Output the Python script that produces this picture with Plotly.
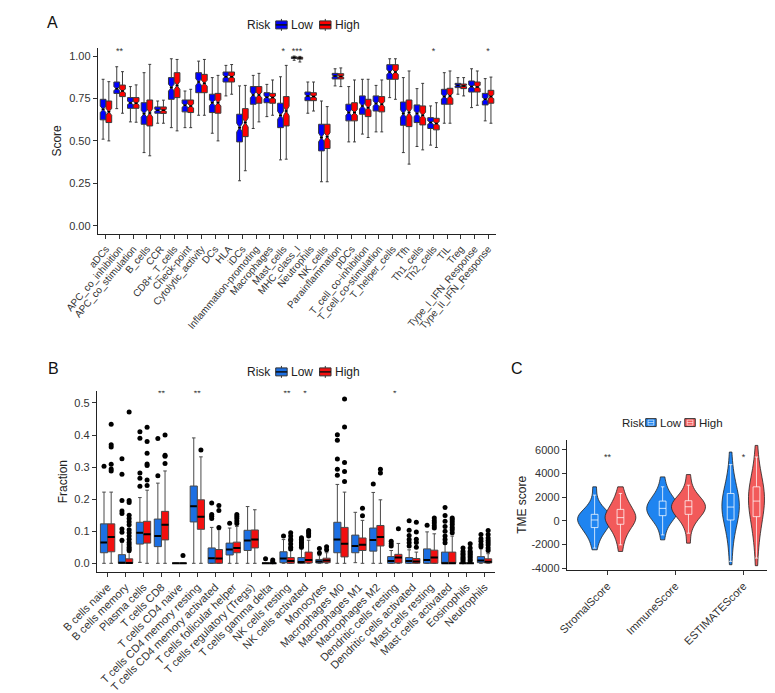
import plotly.graph_objects as go

W, H = 775, 693
FONT = "Liberation Sans, Arial, Helvetica, sans-serif"
TXT = "#333333"

# ---------------- Panel A: immune function scores ----------------
a_categories = ["aDCs", "APC_co_inhibition", "APC_co_stimulation", "B_cells", "CCR",
                "CD8+_T_cells", "Check-point", "Cytolytic_activity", "DCs", "HLA",
                "iDCs", "Inflammation-promoting", "Macrophages", "Mast_cells", "MHC_class_I",
                "Neutrophils", "NK_cells", "Parainflammation", "pDCs", "T_cell_co-inhibition",
                "T_cell_co-stimulation", "T_helper_cells", "Tfh", "Th1_cells", "Th2_cells",
                "TIL", "Treg", "Type_I_IFN_Response", "Type_II_IFN_Response"]
a_low_lower = [0.51, 0.69, 0.612, 0.431, 0.604, 0.578, 0.578, 0.651, 0.545, 0.765,
               0.265, 0.573, 0.643, 0.388, 0.975, 0.663, 0.259, 0.824, 0.494, 0.54,
               0.553, 0.755, 0.431, 0.467, 0.475, 0.604, 0.775, 0.696, 0.618]
a_low_q1 = [0.624, 0.78, 0.692, 0.598, 0.663, 0.745, 0.671, 0.784, 0.667, 0.847,
            0.494, 0.716, 0.725, 0.578, 0.986, 0.737, 0.441, 0.865, 0.618, 0.657,
            0.676, 0.863, 0.592, 0.608, 0.573, 0.716, 0.814, 0.788, 0.712]
a_low_med = [0.686, 0.808, 0.724, 0.66, 0.68, 0.814, 0.71, 0.847, 0.725, 0.878,
             0.578, 0.771, 0.757, 0.651, 0.991, 0.765, 0.52, 0.882, 0.667, 0.706,
             0.72, 0.906, 0.661, 0.661, 0.608, 0.761, 0.827, 0.82, 0.745]
a_low_q3 = [0.745, 0.847, 0.755, 0.725, 0.70, 0.873, 0.741, 0.902, 0.775, 0.906,
            0.657, 0.82, 0.784, 0.722, 0.995, 0.788, 0.598, 0.898, 0.716, 0.765,
            0.765, 0.949, 0.729, 0.712, 0.637, 0.804, 0.839, 0.853, 0.78]
a_low_upper = [0.863, 0.937, 0.82, 0.902, 0.735, 0.984, 0.794, 0.97, 0.873, 0.945,
               0.824, 0.886, 0.833, 0.878, 1.0, 0.847, 0.735, 0.925, 0.82, 0.863,
               0.827, 0.984, 0.873, 0.808, 0.706, 0.902, 0.873, 0.925, 0.867]
a_high_lower = [0.50, 0.663, 0.61, 0.412, 0.604, 0.559, 0.578, 0.651, 0.50, 0.775,
                0.324, 0.612, 0.651, 0.392, 0.965, 0.676, 0.259, 0.82, 0.494, 0.52,
                0.553, 0.745, 0.363, 0.447, 0.461, 0.604, 0.765, 0.71, 0.604]
a_high_q1 = [0.608, 0.761, 0.692, 0.588, 0.662, 0.755, 0.667, 0.784, 0.663, 0.847,
             0.525, 0.722, 0.722, 0.588, 0.982, 0.737, 0.455, 0.865, 0.618, 0.643,
             0.671, 0.863, 0.584, 0.594, 0.565, 0.716, 0.808, 0.788, 0.722]
a_high_med = [0.671, 0.794, 0.722, 0.665, 0.68, 0.827, 0.706, 0.84, 0.725, 0.878,
              0.608, 0.771, 0.755, 0.676, 0.988, 0.761, 0.525, 0.88, 0.667, 0.696,
              0.716, 0.906, 0.667, 0.651, 0.602, 0.765, 0.824, 0.818, 0.761]
a_high_q3 = [0.735, 0.829, 0.755, 0.741, 0.70, 0.902, 0.741, 0.892, 0.78, 0.906,
             0.69, 0.82, 0.78, 0.761, 0.993, 0.784, 0.598, 0.896, 0.725, 0.745,
             0.761, 0.949, 0.741, 0.706, 0.633, 0.81, 0.835, 0.847, 0.798]
a_high_upper = [0.849, 0.908, 0.83, 0.951, 0.74, 0.98, 0.804, 0.98, 0.886, 0.95,
                0.827, 0.898, 0.859, 0.945, 0.998, 0.847, 0.702, 0.93, 0.859, 0.863,
                0.859, 0.984, 0.912, 0.839, 0.725, 0.912, 0.873, 0.912, 0.876]
a_sig = ["", "**", "", "", "", "", "", "", "", "", "", "", "", "*", "***",
         "", "", "", "", "", "", "", "", "", "*", "", "", "", "*"]
a_yticks = [0.0, 0.25, 0.5, 0.75, 1.0]

# ---------------- Panel B: immune cell fractions ----------------
b_categories = ["B cells naive", "B cells memory", "Plasma cells", "T cells CD8", "T cells CD4 naive",
                "T cells CD4 memory resting", "T cells CD4 memory activated", "T cells follicular helper",
                "T cells regulatory (Tregs)", "T cells gamma delta", "NK cells resting", "NK cells activated",
                "Monocytes", "Macrophages M0", "Macrophages M1", "Macrophages M2",
                "Dendritic cells resting", "Dendritic cells activated", "Mast cells resting",
                "Mast cells activated", "Eosinophils", "Neutrophils"]
b_low_lower = [0, 0, 0.003, 0, 0, 0, 0, 0, 0, 0, 0, 0, 0, 0, 0.002, 0, 0, 0, 0, 0, 0, 0]
b_low_q1 = [0.033, 0, 0.06, 0.052, 0, 0.129, 0, 0.026, 0.04, 0, 0.002, 0, 0.001, 0.033, 0.033, 0.038,
            0, 0, 0, 0, 0, 0.002]
b_low_med = [0.065, 0.002, 0.095, 0.085, 0, 0.178, 0.016, 0.043, 0.071, 0, 0.015, 0.004, 0.006, 0.074,
             0.054, 0.073, 0.007, 0.007, 0.01, 0, 0, 0.009]
b_low_q3 = [0.123, 0.027, 0.128, 0.138, 0, 0.241, 0.048, 0.063, 0.103, 0, 0.036, 0.018, 0.012, 0.128,
            0.088, 0.11, 0.021, 0.018, 0.045, 0.035, 0, 0.021]
b_low_upper = [0.222, 0.065, 0.205, 0.25, 0, 0.391, 0.112, 0.11, 0.177, 0, 0.074, 0.045, 0.024, 0.246,
               0.159, 0.221, 0.04, 0.042, 0.098, 0.06, 0, 0.045]
b_low_out = [[0.303], [0.326, 0.278, 0.196, 0.163, 0.155, 0.107, 0.097, 0.072],
             [0.41, 0.39, 0.282, 0.265, 0.24], [0.273, 0.389], [], [],
             [0.188, 0.152, 0.147, 0.14], [0.125], [], [0.014], [0.085],
             [0.08, 0.075, 0.07, 0.065, 0.06, 0.055, 0.05], [0.032, 0.046],
             [0.275, 0.293, 0.325, 0.384, 0.401], [], [0.247], [0.069, 0.061, 0.054],
             [0.133, 0.103, 0.087, 0.074, 0.064, 0.054], [0.119],
             [0.174, 0.149, 0.131, 0.115, 0.1, 0.085, 0.074, 0.064],
             [0.048, 0.038, 0.031, 0.026, 0.02, 0.015, 0.01, 0.005],
             [0.09, 0.077, 0.069, 0.059, 0.052]]
b_high_lower = [0] * 22
b_high_q1 = [0.036, 0, 0.063, 0.073, 0, 0.106, 0, 0.033, 0.048, 0, 0, 0.001, 0.002, 0.02, 0.04, 0.054,
             0.001, 0, 0, 0, 0, 0.001]
b_high_med = [0.082, 0.001, 0.091, 0.12, 0, 0.145, 0.015, 0.048, 0.074, 0, 0.007, 0.01, 0.009, 0.061,
              0.058, 0.082, 0.018, 0.006, 0.018, 0, 0, 0.005]
b_high_q3 = [0.123, 0.014, 0.131, 0.162, 0, 0.198, 0.043, 0.066, 0.104, 0, 0.018, 0.035, 0.016, 0.112,
             0.079, 0.118, 0.028, 0.015, 0.041, 0.035, 0, 0.014]
b_high_upper = [0.222, 0.034, 0.228, 0.288, 0, 0.332, 0.105, 0.115, 0.167, 0, 0.04, 0.072, 0.033, 0.222,
                0.134, 0.198, 0.062, 0.035, 0.092, 0.085, 0, 0.03]
b_high_out = [[0.434, 0.37, 0.363, 0.309, 0.294, 0.288],
              [0.472, 0.196, 0.19, 0.15, 0.14, 0.13, 0.12, 0.105, 0.095, 0.085, 0.075, 0.065, 0.058,
               0.05, 0.045, 0.04],
              [0.424, 0.38, 0.343, 0.31, 0.305, 0.26, 0.243], [0.311, 0.334, 0.337, 0.4], [0.024],
              [0.353], [0.18, 0.165, 0.112], [0.152, 0.146, 0.14, 0.132, 0.124], [], [0.01, 0.005],
              [0.095, 0.085, 0.075, 0.07, 0.06, 0.05, 0.045], [0.102, 0.098, 0.092, 0.085],
              [0.042, 0.052], [0.255, 0.286, 0.314, 0.425, 0.512], [0.172, 0.148], [0.293, 0.282],
              [0.108], [0.128, 0.098, 0.075, 0.065, 0.05], [0.141, 0.133, 0.126, 0.117, 0.11],
              [0.141, 0.136, 0.129, 0.121, 0.112, 0.105, 0.095],
              [0.061, 0.048, 0.038, 0.033, 0.028, 0.023, 0.018, 0.012, 0.007],
              [0.102, 0.09, 0.079, 0.071, 0.064, 0.057, 0.048, 0.04]]
b_sig = ["", "", "", "**", "", "**", "", "", "", "", "**", "*", "", "", "", "", "*", "", "", "", "", ""]
b_yticks = [0.0, 0.1, 0.2, 0.3, 0.4, 0.5]

# ---------------- Panel C: ESTIMATE scores (quantile readings) ----------------
c_categories = ["StromalScore", "ImmuneScore", "ESTIMATEScore"]
c_stromal_low = [-2436, -1750, -1300, -1050, -850, -650, -480, -340, -210, -90, 30, 140, 240, 330,
                 420, 520, 620, 780, 980, 1250, 1800, 2884]
c_stromal_high = [-2576, -1700, -1200, -900, -650, -400, -180, -40, 70, 160, 240, 320, 420, 540,
                  690, 880, 1080, 1300, 1520, 1780, 2200, 2884]
c_immune_low = [-1596, -700, -250, 50, 240, 390, 520, 650, 780, 900, 1010, 1120, 1230, 1350, 1470,
                1600, 1760, 1940, 2150, 2450, 2900, 3724]
c_immune_high = [-1876, -800, -250, 100, 330, 490, 630, 760, 880, 1000, 1120, 1230, 1330, 1440,
                 1550, 1650, 1790, 1960, 2180, 2500, 3000, 3920]
c_estimate_low = [-3696, -2300, -1400, -800, -400, -80, 250, 520, 760, 960, 1100, 1250, 1450, 1680,
                  1950, 2200, 2450, 2750, 3100, 3600, 4400, 5824]
c_estimate_high = [-3780, -2200, -1300, -700, -250, 150, 550, 850, 1120, 1350, 1560, 1800, 2020,
                   2250, 2480, 2750, 3000, 3300, 3650, 4100, 4900, 6384]
c_low_box = {"lower": [-2296, -1176, -3416], "q1": [-560, 448, 84], "med": [84, 1064, 1176],
             "q3": [560, 1680, 2324], "upper": [2184, 2884, 4760]}
c_high_box = {"lower": [-2016, -1036, -3136], "q1": [-280, 560, 364], "med": [280, 1200, 1680],
              "q3": [980, 1708, 2884], "upper": [2324, 3024, 5404]}
c_sig = ["**", "", "*"]
c_yticks = [-4000, -2000, 0, 2000, 4000, 6000]
c_star_level = 5300

risk_title = "Risk"
risk_groups = ["Low", "High"]

A_COLORS = ["#0000FF", "#FF0000"]
B_COLORS = ["#1C6FE3", "#F20F0F"]
C_COLORS = ["#1F84F0", "#F25A5A"]


def px_x(p):
    return p / W


def px_y(p):
    return 1 - p / H


fig = go.Figure()

# ---------- Panel A boxes ----------
for off, lo, q1, me, q3, up, col in [
        (-0.21, a_low_lower, a_low_q1, a_low_med, a_low_q3, a_low_upper, A_COLORS[0]),
        (0.21, a_high_lower, a_high_q1, a_high_med, a_high_q3, a_high_upper, A_COLORS[1])]:
    pos = [i + 1 + off for i in range(len(a_categories))]
    notch = [0.16 * (b - a) for a, b in zip(q1, q3)]
    fig.add_trace(go.Box(
        x=pos, q1=q1, median=me, q3=q3, lowerfence=lo, upperfence=up,
        notched=True, notchspan=notch, notchwidth=0.5, width=0.42,
        fillcolor=col, line=dict(color="#3a3a3a", width=1),
        showlegend=False, xaxis="x", yaxis="y", hoverinfo="skip"))
    # black median bar across the notch waist
    fig.add_trace(go.Box(
        x=pos, q1=me, median=me, q3=me, lowerfence=me, upperfence=me, width=0.22,
        fillcolor="black", line=dict(color="black", width=1.5),
        showlegend=False, xaxis="x", yaxis="y", hoverinfo="skip"))

fig.add_trace(go.Scatter(
    x=[i + 1 for i, s in enumerate(a_sig) if s], y=[1.025] * sum(1 for s in a_sig if s),
    text=[s for s in a_sig if s], mode="text", textfont=dict(size=9, color=TXT, family=FONT),
    showlegend=False, xaxis="x", yaxis="y", hoverinfo="skip"))

# ---------- Panel B boxes ----------
for off, lo, q1, me, q3, up, outs, col in [
        (-0.2, b_low_lower, b_low_q1, b_low_med, b_low_q3, b_low_upper, b_low_out, B_COLORS[0]),
        (0.2, b_high_lower, b_high_q1, b_high_med, b_high_q3, b_high_upper, b_high_out, B_COLORS[1])]:
    pos = [i + 1 + off for i in range(len(b_categories))]
    fig.add_trace(go.Box(
        x=pos, q1=q1, median=me, q3=q3, lowerfence=lo, upperfence=up, width=0.4,
        fillcolor=col, line=dict(color="#4a4a4a", width=1),
        showlegend=False, xaxis="x2", yaxis="y2", hoverinfo="skip"))
    fig.add_trace(go.Box(
        x=pos, q1=me, median=me, q3=me, lowerfence=me, upperfence=me, width=0.4,
        fillcolor="black", line=dict(color="black", width=2),
        showlegend=False, xaxis="x2", yaxis="y2", hoverinfo="skip"))
    ox, oy = [], []
    for i, vals in enumerate(outs):
        ox += [i + 1 + off] * len(vals)
        oy += vals
    fig.add_trace(go.Scatter(
        x=ox, y=oy, mode="markers", marker=dict(color="black", size=5),
        showlegend=False, xaxis="x2", yaxis="y2", hoverinfo="skip"))

fig.add_trace(go.Scatter(
    x=[i + 1 for i, s in enumerate(b_sig) if s], y=[0.529] * sum(1 for s in b_sig if s),
    text=[s for s in b_sig if s], mode="text", textfont=dict(size=9, color=TXT, family=FONT),
    showlegend=False, xaxis="x2", yaxis="y2", hoverinfo="skip"))

# ---------- Panel C violins ----------
for off, samples, box, col in [
        (-0.19, [c_stromal_low, c_immune_low, c_estimate_low], c_low_box, C_COLORS[0]),
        (0.19, [c_stromal_high, c_immune_high, c_estimate_high], c_high_box, C_COLORS[1])]:
    vx, vy = [], []
    for i, s in enumerate(samples):
        vx += [i + 1 + off] * len(s)
        vy += s
    fig.add_trace(go.Violin(
        x=vx, y=vy, fillcolor=col, line=dict(color="#222222", width=0.8),
        opacity=1, width=0.5, spanmode="hard", scalemode="count", scalegroup="c",
        points=False, box_visible=False, meanline_visible=False,
        showlegend=False, xaxis="x3", yaxis="y3", hoverinfo="skip"))
    fig.add_trace(go.Box(
        x=[i + 1 + off for i in range(3)], q1=box["q1"], median=box["med"], q3=box["q3"],
        lowerfence=box["lower"], upperfence=box["upper"], width=0.1,
        fillcolor="rgba(0,0,0,0)", line=dict(color="rgba(255,255,255,0.75)", width=1),
        showlegend=False, xaxis="x3", yaxis="y3", hoverinfo="skip"))

fig.add_trace(go.Scatter(
    x=[i + 1 for i, s in enumerate(c_sig) if s], y=[c_star_level] * sum(1 for s in c_sig if s),
    text=[s for s in c_sig if s], mode="text", textfont=dict(size=9, color=TXT, family=FONT),
    showlegend=False, xaxis="x3", yaxis="y3", hoverinfo="skip"))

# ---------- Axes ----------
axis_common = dict(showline=True, linecolor="#222222", linewidth=1, ticks="outside", ticklen=4,
                   tickcolor="#333333", tickwidth=1, showgrid=False, zeroline=False,
                   tickfont=dict(family=FONT, size=11, color=TXT), fixedrange=True)

fig.update_layout(
    xaxis=dict(axis_common, domain=[px_x(56.4), px_x(474.3)], range=[0.4, 29.6],
               tickvals=list(range(1, len(a_categories) + 1)), ticktext=a_categories,
               tickangle=-50, tickfont=dict(family=FONT, size=10, color=TXT), anchor="y"),
    yaxis=dict(axis_common, domain=[px_y(227.5), px_y(39.8)], range=[-0.05, 1.05],
               tickvals=a_yticks, ticktext=["%.2f" % v for v in a_yticks], anchor="x"),
    xaxis2=dict(axis_common, domain=[px_x(55.4), px_x(473.3)], range=[0.4, 22.6],
                tickvals=list(range(1, len(b_categories) + 1)), ticktext=b_categories,
                tickangle=-45, tickfont=dict(family=FONT, size=11, color=TXT), anchor="y2"),
    yaxis2=dict(axis_common, domain=[px_y(566.8), px_y(385)], range=[-0.0256, 0.538],
                tickvals=b_yticks, ticktext=["%.1f" % v for v in b_yticks], anchor="x2"),
    xaxis3=dict(axis_common, domain=[px_x(548.2), 1.0], range=[0.4, 3.58],
                tickvals=[1, 2, 3], ticktext=c_categories, tickangle=-45,
                tickfont=dict(family=FONT, size=11, color=TXT), anchor="y3"),
    yaxis3=dict(axis_common, domain=[px_y(565.7), px_y(435)], range=[-4180, 6800],
                tickvals=c_yticks, ticktext=[str(v) for v in c_yticks], anchor="x3"),
)

# ---------- Manual legends (ggplot-like key glyphs) ----------
shapes = []
ann = []


def add_box_key(x0, x1, yc, color, white_inner=False):
    xc = (x0 + x1) / 2
    shapes.append(dict(type="rect", xref="paper", yref="paper", x0=px_x(x0), x1=px_x(x1),
                       y0=px_y(yc + 4), y1=px_y(yc - 4), fillcolor=color,
                       line=dict(color="#333333", width=1)))
    inner = "rgba(255,255,255,0.8)" if white_inner else "#111111"
    if white_inner:
        shapes.append(dict(type="rect", xref="paper", yref="paper", x0=px_x(xc - 3), x1=px_x(xc + 3),
                           y0=px_y(yc + 2.5), y1=px_y(yc - 2.5), fillcolor="rgba(0,0,0,0)",
                           line=dict(color=inner, width=0.8)))
        shapes.append(dict(type="line", xref="paper", yref="paper", x0=px_x(xc - 3), x1=px_x(xc + 3),
                           y0=px_y(yc), y1=px_y(yc), line=dict(color=inner, width=0.8)))
    else:
        shapes.append(dict(type="line", xref="paper", yref="paper", x0=px_x(x0), x1=px_x(x1),
                           y0=px_y(yc), y1=px_y(yc), line=dict(color=inner, width=1.5)))
        for ya, yb in [(yc - 6, yc - 4), (yc + 4, yc + 6)]:
            shapes.append(dict(type="line", xref="paper", yref="paper", x0=px_x(xc), x1=px_x(xc),
                               y0=px_y(ya), y1=px_y(yb), line=dict(color="#333333", width=1)))


def add_text(text, x, y, size, anchor="left", angle=0, color="#222222"):
    ann.append(dict(text=text, x=px_x(x), y=px_y(y), xref="paper", yref="paper", showarrow=False,
                    xanchor=anchor, yanchor="middle", textangle=angle,
                    font=dict(family=FONT, size=size, color=color)))


for yc, colors in [(17, A_COLORS), (366, B_COLORS)]:
    add_text(risk_title, 211, yc, 12)
    add_box_key(243, 255, yc, colors[0])
    add_text(risk_groups[0], 257, yc, 12)
    add_box_key(289, 301, yc, colors[1])
    add_text(risk_groups[1], 303, yc, 12)

add_text(risk_title, 604, 417, 11.5)
add_box_key(631, 642, 417, C_COLORS[0], white_inner=True)
add_text(risk_groups[0], 644, 417, 11.5)
add_box_key(672, 683, 417, C_COLORS[1], white_inner=True)
add_text(risk_groups[1], 685, 417, 11.5)

# panel letters and axis titles
for text, x, y in [("A", 9, 15), ("B", 10, 363), ("C", 496, 363)]:
    add_text(text, x, y, 16, anchor="center", color="#111111")
for text, x, y in [("Score", 14, 133), ("Fraction", 20, 477), ("TME score", 501, 500)]:
    add_text(text, x, y, 12, anchor="center", angle=-90)

fig.update_layout(
    width=W, height=H, margin=dict(l=0, r=0, t=0, b=0), showlegend=False,
    paper_bgcolor="white", plot_bgcolor="white", annotations=ann, shapes=shapes,
    font=dict(family=FONT, color=TXT),
)

fig.write_html("out.html")
